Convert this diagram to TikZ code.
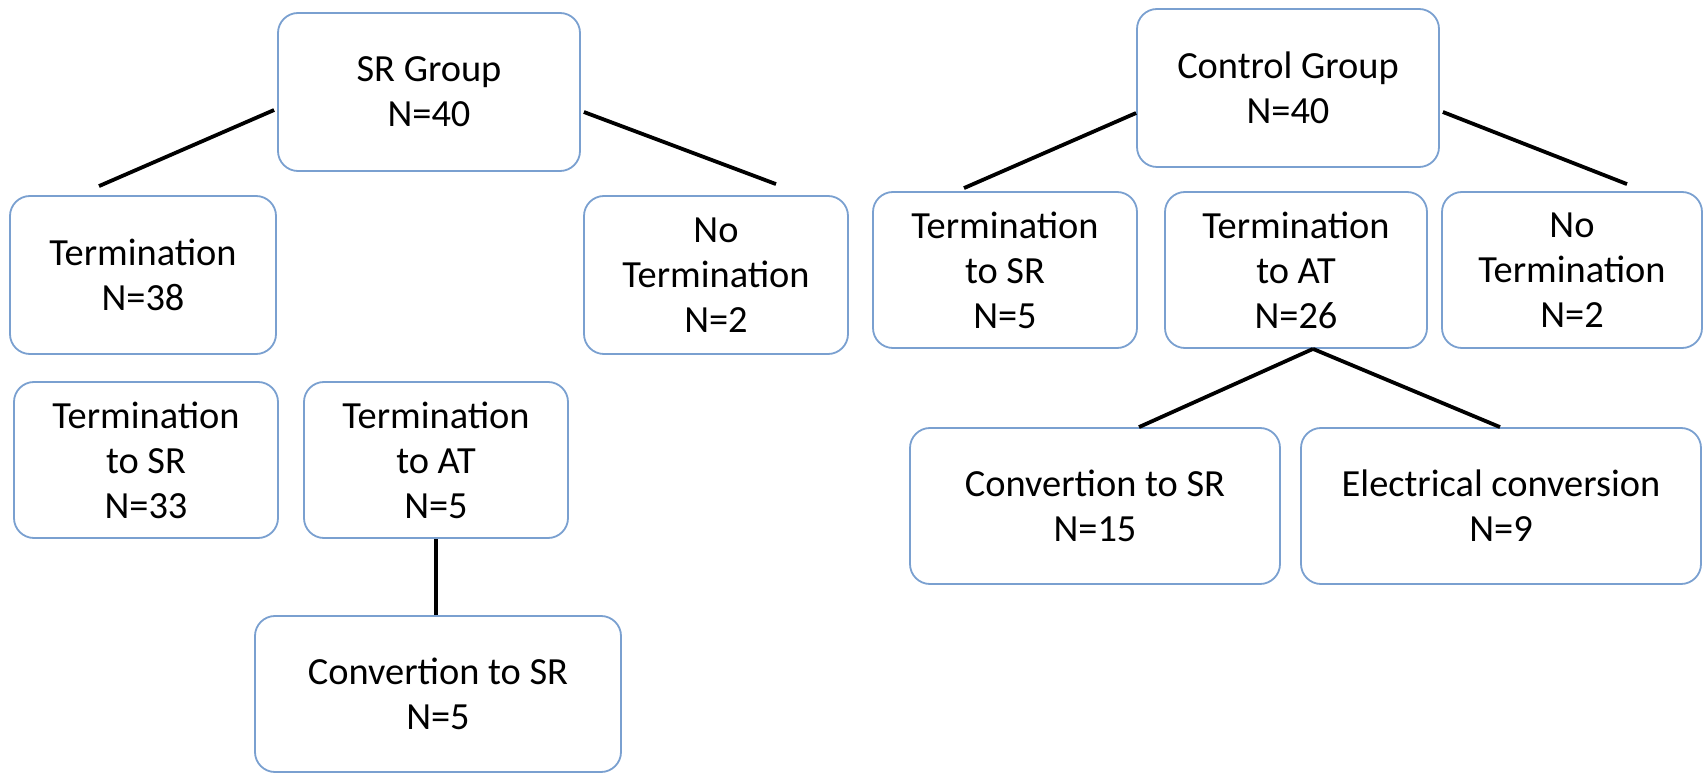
\documentclass[tikz,border=0pt]{standalone}
\usepackage{fontspec}
\setmainfont{Carlito}
\usepackage{tikz}
\usetikzlibrary{calc}
\definecolor{boxblue}{RGB}{122,160,208}

\begin{document}
\begin{tikzpicture}[x=0.5pt, y=-0.5pt, font=\fontsize{19.2}{22.5}\selectfont,
    grp/.style={draw=boxblue, line width=0.9pt, rounded corners=10pt, align=center,
      inner sep=0pt, minimum width=132pt, minimum height=78pt},
    link/.style={black, line width=1.9pt}]
        \useasboundingbox (0,0) rectangle (1705,775);
        % SR group
        \node[grp, minimum width=151pt, minimum height=79pt] (sr) at (429,92) {SR Group\\N=40};
        \node[grp, minimum width=133pt, minimum height=79pt] (srterm) at (143,275) {Termination\\N=38};
        \node[grp, minimum width=132pt, minimum height=79pt] (srnoterm) at (716,275) {No\\Termination\\N=2};
        \node[grp] (srtosr) at (146,460) {Termination\\to SR\\N=33};
        \node[grp] (srtoat) at (436,460) {Termination\\to AT\\N=5};
        \node[grp, minimum width=183pt] (srconv) at (438,694) {Convertion to SR\\N=5};
        % control group
        \node[grp, minimum width=151pt, minimum height=79pt] (ctrl) at (1288,88) {Control Group\\N=40};
        \node[grp] (ctrltosr) at (1005,270) {Termination\\to SR\\N=5};
        \node[grp, minimum width=131pt] (ctrltoat) at (1296,270) {Termination\\to AT\\N=26};
        \node[grp, minimum width=130pt] (ctrlnoterm) at (1572,270) {No\\Termination\\N=2};
        \node[grp, minimum width=185pt] (ctrlconv) at (1095,506) {Convertion to SR\\N=15};
        \node[grp, minimum width=200pt] (ctrlelec) at (1501,506) {Electrical conversion\\N=9};
        % connectors
        \draw[link] ($(sr.west)+(-3,18)$) -- ($(srterm.north)+(-44,-9)$);
        \draw[link] ($(sr.east)+(3,20)$) -- ($(srnoterm.north)+(60,-11)$);
        \draw[link] (srtoat.south) -- (srtoat.south |- srconv.north);
        \draw[link] ($(ctrl.west)+(0,25)$) -- ($(ctrltosr.north)+(-41,-3)$);
        \draw[link] ($(ctrl.east)+(3,24)$) -- ($(ctrlnoterm.north)+(55,-7)$);
        \draw[link] ($(ctrltoat.south)+(17,0)$) -- ($(ctrlconv.north)+(44,0)$);
        \draw[link] ($(ctrltoat.south)+(17,0)$) -- ($(ctrlelec.north)+(-1,0)$);
\end{tikzpicture}
\end{document}
